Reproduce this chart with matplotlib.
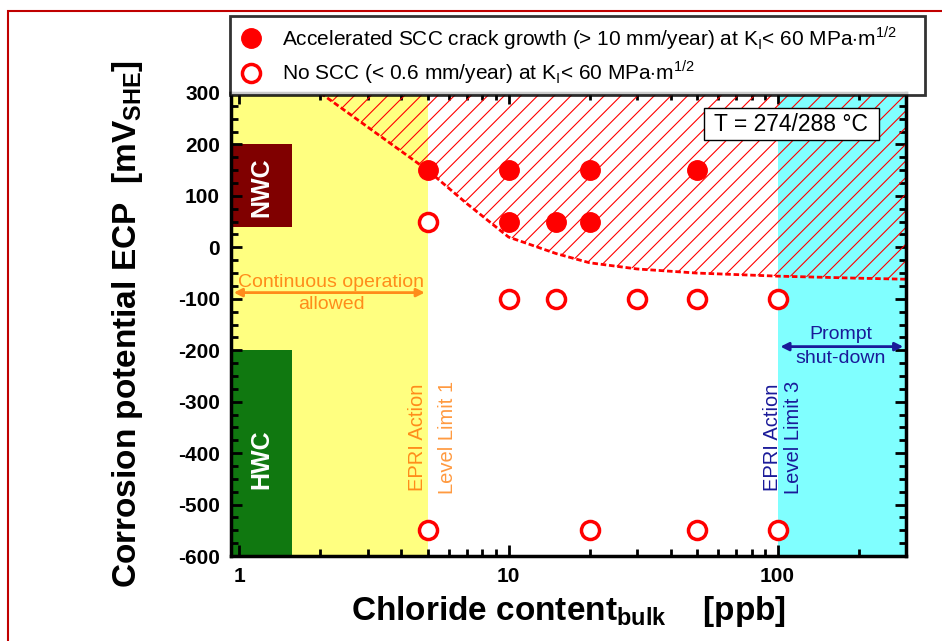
import matplotlib
matplotlib.use("Agg")
import matplotlib.pyplot as plt
from matplotlib.patches import Rectangle, FancyBboxPatch
from matplotlib.ticker import MultipleLocator, LogLocator, FixedLocator, NullFormatter

plt.rcParams['font.family'] = ['Liberation Sans', 'DejaVu Sans']
plt.rcParams['mathtext.fontset'] = 'custom'
plt.rcParams['mathtext.rm'] = 'Liberation Sans'
plt.rcParams['mathtext.bf'] = 'Liberation Sans:bold'
plt.rcParams['hatch.linewidth'] = 0.8
plt.rcParams['axes.unicode_minus'] = False

# data
scc_x = [5, 10, 10, 15, 20, 20, 50]
scc_y = [150, 150, 50, 50, 150, 50, 150]
noscc_x = [5, 10, 15, 30, 50, 100, 5, 20, 50, 100]
noscc_y = [50, -100, -100, -100, -100, -100, -550, -550, -550, -550]

# boundary of the SCC region
bound_x = [2, 5, 7, 10, 15, 20, 30, 50, 100, 200, 300]
bound_y = [300, 150, 85, 20, -12, -30, -42, -50, -56, -60, -62]

xlim = (0.93, 300)
ylim = (-600, 300)
limit1 = 5
limit3 = 100
nwc = (40, 200)
hwc = (-600, -200)
box_right = 1.57

fig = plt.figure(figsize=(9.42, 6.41), dpi=100)
ax = fig.add_axes([231/942, 1-556/641, 675/942, 463/641])
ax.set_xscale('log')
ax.set_xlim(*xlim)
ax.set_ylim(*ylim)

# background zones
ax.axvspan(xlim[0], limit1, color='#ffff80', zorder=0, lw=0)
ax.axvspan(limit3, xlim[1], color='#80ffff', zorder=0, lw=0)
ax.add_patch(FancyBboxPatch((xlim[0], nwc[0]), box_right-xlim[0], nwc[1]-nwc[0],
                            boxstyle='square,pad=0', fc='#800000', ec='none', zorder=1))
ax.add_patch(FancyBboxPatch((xlim[0], hwc[0]), box_right-xlim[0], hwc[1]-hwc[0],
                            boxstyle='square,pad=0', fc='#107810', ec='none', zorder=1))
ax.text(1.21, 117, 'NWC', color='white', fontsize=18, fontweight='bold',
        rotation=90, ha='center', va='center', zorder=2)
ax.text(1.21, -412, 'HWC', color='white', fontsize=18, fontweight='bold',
        rotation=90, ha='center', va='center', zorder=2)

# hatched SCC region
ax.fill_between(bound_x, bound_y, ylim[1], facecolor='none', edgecolor='red',
                hatch='//', linewidth=0, zorder=2)
ax.plot(bound_x, bound_y, color='red', lw=2, ls=(0, (2, 1)), zorder=3)

# data points
ax.plot(scc_x, scc_y, 'o', color='red', ms=14, zorder=5, clip_on=False,
        label='Accelerated SCC crack growth (> 10 mm/year) at K$_\\mathrm{I}$< 60 MPa$\\cdot$m$^{1/2}$')
ax.plot(noscc_x, noscc_y, 'o', mfc='white', mec='red', mew=2.5, ms=13, zorder=5, clip_on=False,
        label='No SCC (< 0.6 mm/year) at K$_\\mathrm{I}$< 60 MPa$\\cdot$m$^{1/2}$')

# annotations
orange = '#ff8c1a'
navy = '#1a1a99'
ax.annotate('', xy=(limit1, -88), xytext=(xlim[0], -88),
            arrowprops=dict(arrowstyle='<|-|>', color=orange, lw=2, mutation_scale=12), zorder=4)
ax.text(2.19, -68, 'Continuous operation', color=orange, fontsize=14, ha='center', va='center')
ax.text(2.19, -111, 'allowed', color=orange, fontsize=14, ha='center', va='center')
ax.annotate('', xy=(xlim[1], -193), xytext=(limit3, -193),
            arrowprops=dict(arrowstyle='<|-|>', color=navy, lw=2, mutation_scale=12), zorder=4)
ax.text(172, -170, 'Prompt', color=navy, fontsize=14, ha='center', va='center')
ax.text(172, -216, 'shut-down', color=navy, fontsize=14, ha='center', va='center')

ax.text(4.6, -370, 'EPRI Action', color=orange, fontsize=14.5, rotation=90, ha='center', va='center')
ax.text(5.93, -370, 'Level Limit 1', color='#ff9a40', fontsize=14.5, rotation=90, ha='center', va='center')
ax.text(96, -370, 'EPRI Action', color=navy, fontsize=14.5, rotation=90, ha='center', va='center')
ax.text(115, -370, 'Level Limit 3', color=navy, fontsize=14.5, rotation=90, ha='center', va='center')

ax.text(0.83, 0.933, ' T = 274/288 °C ', transform=ax.transAxes, fontsize=16.5,
        ha='center', va='center', zorder=6,
        bbox=dict(boxstyle='square,pad=0.2', fc='white', ec='black', lw=1))

# axes styling
for s in ax.spines.values():
    s.set_linewidth(2.5)
    s.set_zorder(10)
ax.yaxis.set_major_locator(MultipleLocator(100))
ax.yaxis.set_minor_locator(MultipleLocator(25))
ax.xaxis.set_major_locator(FixedLocator([1, 10, 100]))
ax.xaxis.set_minor_locator(LogLocator(base=10, subs=range(2, 10)))
ax.xaxis.set_minor_formatter(NullFormatter())
ax.set_xticklabels(['1', '10', '100'])
ax.tick_params(which='both', direction='in', top=True, right=True, width=2)
ax.tick_params(which='major', length=8, labelsize=15, pad=8)
ax.tick_params(which='minor', length=5)
for lab in ax.get_xticklabels() + ax.get_yticklabels():
    lab.set_fontweight('bold')

ax.set_xlabel('Chloride content$_\\mathbf{bulk}$    [ppb]', fontsize=24, fontweight='bold', labelpad=6)
ax.set_ylabel('Corrosion potential ECP  [mV$_\\mathbf{SHE}$]', fontsize=24, fontweight='bold', labelpad=24)

fig.legend(loc='upper left', bbox_to_anchor=(230/942, 1-16/641-0.01, 695/942, 0.01), mode='expand',
           fontsize=15, frameon=True, fancybox=False, edgecolor='black', borderaxespad=0,
           handletextpad=0.9, labelspacing=0.3, borderpad=0.4, handlelength=1.2)
fig.legends[0].get_frame().set_linewidth(2)

# page frame
fig.add_artist(Rectangle((8/942, -0.05), 1.1, 1-11/641+0.05, transform=fig.transFigure,
                         fill=False, ec='#c00000', lw=1.5))

fig.savefig('out.png', dpi=100)
